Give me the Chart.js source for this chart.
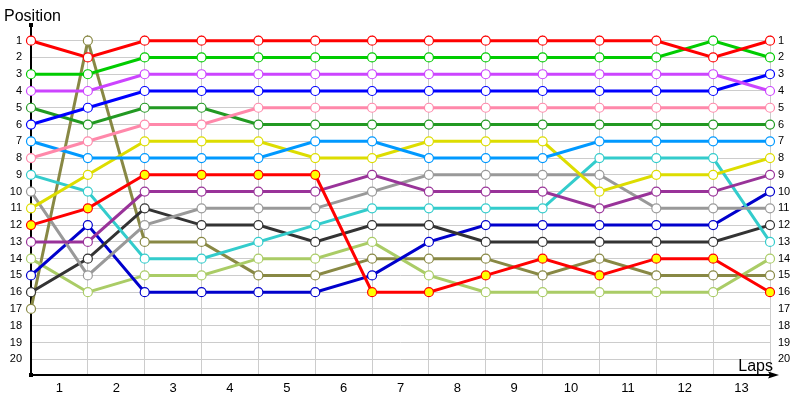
<!DOCTYPE html>
<html>
<head>
<meta charset="utf-8">
<script src="https://cdn.jsdelivr.net/npm/chart.js@4/dist/chart.umd.min.js"></script>
<style>
    body { margin: 0; background: #fff; }
    #wrap { width: 800px; height: 400px; position: relative; }
</style>
</head>
<body>
<div id="wrap"><canvas id="chart"></canvas></div>
<script>
// lap tick labels (drawn between the grid lines) and position ticks
const lapLabels = ["1", "2", "3", "4", "5", "6", "7", "8", "9", "10", "11", "12", "13"];
const positionTicks = [1, 2, 3, 4, 5, 6, 7, 8, 9, 10, 11, 12, 13, 14, 15, 16, 17, 18, 19, 20];

// position of each driver at start (index 0) and after each lap
const red = [1, 2, 1, 1, 1, 1, 1, 1, 1, 1, 1, 1, 2, 1];
const green = [3, 3, 2, 2, 2, 2, 2, 2, 2, 2, 2, 2, 1, 2];
const violet = [4, 4, 3, 3, 3, 3, 3, 3, 3, 3, 3, 3, 3, 4];
const blue = [6, 5, 4, 4, 4, 4, 4, 4, 4, 4, 4, 4, 4, 3];
const pink = [8, 7, 6, 6, 5, 5, 5, 5, 5, 5, 5, 5, 5, 5];
const darkGreen = [5, 6, 5, 5, 6, 6, 6, 6, 6, 6, 6, 6, 6, 6];
const skyBlue = [7, 8, 8, 8, 8, 7, 7, 8, 8, 8, 7, 7, 7, 7];
const yellow = [11, 9, 7, 7, 7, 8, 8, 7, 7, 7, 10, 9, 9, 8];
const redYellow = [12, 11, 9, 9, 9, 9, 16, 16, 15, 14, 15, 14, 14, 16];
const purple = [13, 13, 10, 10, 10, 10, 9, 10, 10, 10, 11, 10, 10, 9];
const gray = [10, 15, 12, 11, 11, 11, 10, 9, 9, 9, 9, 11, 11, 11];
const cyan = [9, 10, 14, 14, 13, 12, 11, 11, 11, 11, 8, 8, 8, 13];
const charcoal = [16, 14, 11, 12, 12, 13, 12, 12, 13, 13, 13, 13, 13, 12];
const navy = [15, 12, 16, 16, 16, 16, 15, 13, 12, 12, 12, 12, 12, 10];
const lime = [14, 16, 15, 15, 14, 14, 13, 15, 16, 16, 16, 16, 16, 14];
const olive = [17, 1, 13, 13, 15, 15, 14, 14, 14, 15, 14, 15, 15, 15];

function series(values, color, fill) {
    return {
        data: values.map((v, i) => ({ x: i, y: v })),
        borderColor: color,
        borderWidth: 3,
        pointRadius: 4.5,
        pointHoverRadius: 4.5,
        pointBorderWidth: 1.2,
        pointBorderColor: color,
        pointBackgroundColor: fill || "#ffffff",
        tension: 0,
        clip: false,
    };
}

const datasets = [
    series(red, "#ff0000"),
    series(green, "#00cc00"),
    series(violet, "#cc44ff"),
    series(blue, "#0000ff"),
    series(pink, "#ff88aa"),
    series(darkGreen, "#229922"),
    series(skyBlue, "#0099ff"),
    series(yellow, "#dddd00"),
    series(redYellow, "#ff0000", "#ffff00"),
    series(purple, "#993399"),
    series(gray, "#999999"),
    series(cyan, "#33cccc"),
    series(charcoal, "#333333"),
    series(navy, "#0000cc"),
    series(lime, "#aacc66"),
    series(olive, "#888844"),
];

// axis lines, arrow and the two axis captions
const axisDecor = {
    id: "axisDecor",
    beforeDatasetsDraw(chart) {
        const ctx = chart.ctx;
        const a = chart.chartArea;
        ctx.save();
        ctx.strokeStyle = "#000";
        ctx.fillStyle = "#000";
        ctx.lineWidth = 2;
        ctx.beginPath();
        ctx.moveTo(a.left, 25);
        ctx.lineTo(a.left, a.bottom);
        ctx.lineTo(a.right + 2, a.bottom);
        ctx.stroke();
        ctx.beginPath();
        ctx.moveTo(a.right + 9, a.bottom);
        ctx.lineTo(a.right - 2, a.bottom - 3.5);
        ctx.lineTo(a.right, a.bottom);
        ctx.lineTo(a.right - 2, a.bottom + 3.5);
        ctx.closePath();
        ctx.fill();
        ctx.fillRect(a.left - 2, 23, 4, 4);
        ctx.fillRect(a.left - 2, a.bottom - 2, 4, 4);
        ctx.font = "16px 'Liberation Sans'";
        ctx.textBaseline = "alphabetic";
        ctx.textAlign = "left";
        ctx.fillText("Position", 4, 21);
        ctx.textAlign = "right";
        ctx.fillText("Laps", a.right + 3, a.bottom - 4);
        ctx.restore();
    },
};

const tickFont = { family: "'Liberation Sans'", size: 11 };
const yRange = { min: 0.66, max: 20.94 };

new Chart(document.getElementById("chart"), {
    type: "line",
    data: { datasets: datasets },
    plugins: [axisDecor],
    options: {
        responsive: true,
        maintainAspectRatio: false,
        animation: false,
        layout: { padding: { top: 35, left: 0, right: 0, bottom: 0 } },
        plugins: {
            legend: { display: false },
            tooltip: { enabled: false },
        },
        scales: {
            x: {
                type: "linear",
                position: "bottom",
                min: 0,
                max: lapLabels.length,
                afterBuildTicks: (s) => {
                    s.ticks = Array.from({ length: lapLabels.length + 1 }, (_, i) => ({ value: i }));
                },
                grid: { color: "#cccccc", lineWidth: 1, drawTicks: false },
                border: { display: false },
                ticks: { display: false },
                afterFit: (s) => { s.height = 0; },
            },
            xLabels: {
                type: "linear",
                position: "bottom",
                min: 0,
                max: lapLabels.length,
                afterBuildTicks: (s) => {
                    s.ticks = lapLabels.map((_, i) => ({ value: i + 0.5 }));
                },
                grid: { display: false, drawTicks: false },
                border: { display: false },
                ticks: {
                    autoSkip: false,
                    maxRotation: 0,
                    padding: 6,
                    color: "#000",
                    font: { family: "'Liberation Sans'", size: 13 },
                    callback: (v, i) => lapLabels[i],
                },
                afterFit: (s) => { s.height = 25; },
            },
            y: {
                type: "linear",
                position: "left",
                reverse: true,
                min: yRange.min,
                max: yRange.max,
                afterBuildTicks: (s) => { s.ticks = positionTicks.map((p) => ({ value: p })); },
                grid: { color: "#cccccc", lineWidth: 1, drawTicks: false },
                border: { display: false },
                ticks: {
                    autoSkip: false,
                    padding: 9,
                    color: "#000",
                    font: tickFont,
                    callback: (v) => String(v),
                },
                afterFit: (s) => { s.width = 31; },
            },
            y2: {
                type: "linear",
                position: "right",
                reverse: true,
                min: yRange.min,
                max: yRange.max,
                afterBuildTicks: (s) => { s.ticks = positionTicks.map((p) => ({ value: p })); },
                grid: { display: false, drawTicks: false },
                border: { display: false },
                ticks: {
                    autoSkip: false,
                    padding: 8,
                    color: "#000",
                    font: tickFont,
                    callback: (v) => String(v),
                },
                afterFit: (s) => { s.width = 30; },
            },
        },
    },
});
</script>
</body>
</html>
